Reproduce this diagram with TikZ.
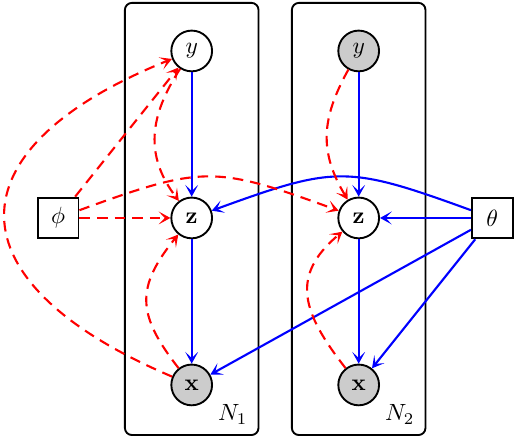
\documentclass[tikz,border=0pt]{standalone}
\usepackage{tikz}
\usetikzlibrary{arrows.meta}
\tikzset{v/.style={circle,draw,thick,minimum size=6.1mm,inner sep=0pt}}
\tikzset{o/.style={v,fill=black!20}}
\tikzset{s/.style={rectangle,draw,thick,minimum size=6.1mm,inner sep=0pt}}
\tikzset{plate/.style={draw,thick,rounded corners=3pt}}
\tikzset{lab/.style={anchor=south east,inner sep=4.5pt}}
\tikzset{q/.style={->,line width=0.9pt,red,dash pattern=on 4.5pt off 3pt}}
\tikzset{m/.style={->,line width=0.9pt,blue}}

\begin{document}
\begin{tikzpicture}[>={Stealth[length=5pt,width=5.5pt,inset=2.6pt]}]
\useasboundingbox (-2.87,-3.263) rectangle (4.855,3.263);
\draw[plate] (-1,-3.25) rectangle (1,3.22);
\draw[plate] (1.5,-3.25) rectangle (3.5,3.22);
\node[lab](n1) at (1,-3.25) {$N_1$};
\node[lab](n2) at (3.5,-3.25) {$N_2$};

\node[v](y1) at (0,2.5) {$y$};
\node[v](z1) at (0,0) {$\mathbf{z}$};
\node[o](x1) at (0,-2.5) {$\mathbf{x}$};
\node[o](y2) at (2.5,2.5) {$y$};
\node[v](z2) at (2.5,0) {$\mathbf{z}$};
\node[o](x2) at (2.5,-2.5) {$\mathbf{x}$};
\node[s](phi) at (-2,0) {$\phi$};
\node[s](theta) at (4.5,0) {$\theta$};

\draw[m] (y1) -- (z1);
\draw[m] (z1) -- (x1);
\draw[m] (y2) -- (z2);
\draw[m] (z2) -- (x2);
\draw[m] (theta) -- (z2);
\draw[m] (theta) to[out=160,in=20,looseness=1.3] (z1);
\draw[m] (theta) -- (x1);
\draw[m] (theta) -- (x2);

\draw[q] (phi) -- (y1);
\draw[q] (phi) -- (z1);
\draw[q] (phi) to[out=20,in=160,looseness=1.3] (z2);
\draw[q] (x1) to[out=157,in=-158,looseness=1.95] (y1);
\draw[q] (y1) to[out=-123,in=127,looseness=1.1] (z1);
\draw[q] (x1) to[out=128,in=-129,looseness=1.3] (z1);
\draw[q] (y2) to[out=-119,in=121,looseness=1.1] (z2);
\draw[q] (x2) to[out=128,in=-140,looseness=1.3] (z2);
\end{tikzpicture}
\end{document}
